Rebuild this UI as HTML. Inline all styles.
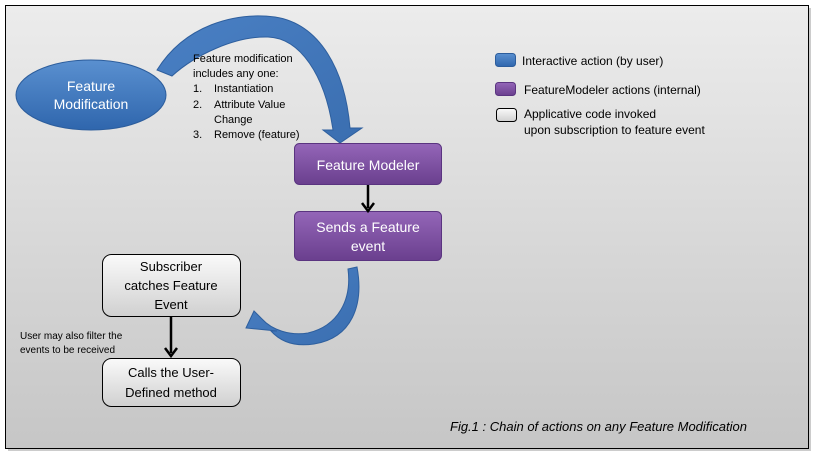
<!DOCTYPE html>
<html><head><meta charset="utf-8"><style>
html,body{margin:0;padding:0;background:#fff;}
svg{display:block;font-family:"Liberation Sans",sans-serif;}
</style></head><body>
<svg width="815" height="456" viewBox="0 0 815 456" xmlns="http://www.w3.org/2000/svg">
<defs>
<linearGradient id="bg" x1="0" y1="0" x2="0" y2="1"><stop offset="0" stop-color="#ececec"/><stop offset="1" stop-color="#c6c6c6"/></linearGradient>
<linearGradient id="blue" x1="0" y1="0" x2="0" y2="1"><stop offset="0" stop-color="#5a90d0"/><stop offset="1" stop-color="#2f66ad"/></linearGradient>
<linearGradient id="purp" x1="0" y1="0" x2="0" y2="1"><stop offset="0" stop-color="#9466b8"/><stop offset="1" stop-color="#6a3f8e"/></linearGradient>
<linearGradient id="wh" x1="0" y1="0" x2="0" y2="1"><stop offset="0" stop-color="#fafafa"/><stop offset="1" stop-color="#d0d0d0"/></linearGradient>
<linearGradient id="arr" x1="0" y1="0" x2="1" y2="1"><stop offset="0" stop-color="#4a80c4"/><stop offset="1" stop-color="#3a6eb0"/></linearGradient>
</defs>
<rect x="8" y="8" width="803" height="443" fill="#999" opacity="0.5"/>
<rect x="5.5" y="5.5" width="803" height="443" fill="url(#bg)" stroke="#000" stroke-width="1"/>
<ellipse cx="91" cy="95" rx="75" ry="35" fill="url(#blue)" stroke="#2c5d9c"/>
<text x="91" y="91" font-size="14" fill="#fff" text-anchor="middle">Feature</text>
<text x="91" y="109" font-size="14" fill="#fff" text-anchor="middle">Modification</text>
<path d="M157,70 C185,25 235,12 275,17 C320,24 345,70 350,128 L362,128 L340,143 L323,130 L333,130 C325,75 300,38 268,37 C235,36 195,55 172,76 Z" fill="url(#arr)" stroke="#2e5f9e" stroke-width="1"/>
<g font-size="11" fill="#000">
<text x="193" y="62">Feature modification</text>
<text x="193" y="77">includes any one:</text>
<text x="193" y="92">1.</text><text x="214" y="92">Instantiation</text>
<text x="193" y="108">2.</text><text x="214" y="108">Attribute Value</text>
<text x="214" y="123">Change</text>
<text x="193" y="138">3.</text><text x="214" y="138">Remove (feature)</text>
</g>
<rect x="294.5" y="143.5" width="147" height="41" rx="5" fill="url(#purp)" stroke="#5a3480"/>
<text x="368" y="170" font-size="14" fill="#fff" text-anchor="middle">Feature Modeler</text>
<rect x="294.5" y="211.5" width="147" height="49" rx="5" fill="url(#purp)" stroke="#5a3480"/>
<text x="368" y="232" font-size="14" fill="#fff" text-anchor="middle">Sends a Feature</text>
<text x="368" y="251" font-size="14" fill="#fff" text-anchor="middle">event</text>
<line x1="368" y1="185" x2="368" y2="208" stroke="#000" stroke-width="2.5"/>
<path d="M362,203 L368,211 L374,203" fill="none" stroke="#000" stroke-width="2.5"/>
<line x1="171" y1="316" x2="171" y2="353" stroke="#000" stroke-width="2.5"/>
<path d="M165,348 L171,356 L177,348" fill="none" stroke="#000" stroke-width="2.5"/>
<path d="M348,269 L357,267 C364,305 352,338 314,344 C294,347 280,341 271,331 L277,331 L246,328 L254,311 L262,319 C272,330 290,336 308,333 C338,326 352,300 348,269 Z" fill="url(#arr)" stroke="#2e5f9e" stroke-width="1"/>
<rect x="102.5" y="254.5" width="138" height="62" rx="9" fill="url(#wh)" stroke="#000"/>
<text x="171" y="271" font-size="13" fill="#000" text-anchor="middle">Subscriber</text>
<text x="171" y="290" font-size="13" fill="#000" text-anchor="middle">catches Feature</text>
<text x="171" y="309" font-size="13" fill="#000" text-anchor="middle">Event</text>
<rect x="102.5" y="358.5" width="138" height="48" rx="9" fill="url(#wh)" stroke="#000"/>
<text x="171" y="377" font-size="13" fill="#000" text-anchor="middle">Calls the User-</text>
<text x="171" y="397" font-size="13" fill="#000" text-anchor="middle">Defined method</text>
<text x="20" y="339" font-size="10" fill="#000">User may also filter the</text>
<text x="20" y="353" font-size="10" fill="#000">events to be received</text>
<rect x="495.5" y="53.5" width="20" height="13" rx="3" fill="url(#blue)" stroke="#2c5d9c"/>
<text x="522" y="65" font-size="12" fill="#000">Interactive action (by user)</text>
<rect x="495.5" y="82.5" width="20" height="13" rx="3" fill="url(#purp)" stroke="#5a3480"/>
<text x="524" y="94" font-size="12" fill="#000">FeatureModeler actions (internal)</text>
<rect x="496.5" y="108.5" width="20" height="13" rx="3" fill="url(#wh)" stroke="#000"/>
<text x="524" y="118" font-size="12" fill="#000">Applicative code invoked</text>
<text x="524" y="134" font-size="12" fill="#000">upon subscription to feature event</text>
<text x="450" y="431" font-size="13" font-style="italic" fill="#000">Fig.1 : Chain of actions on any Feature Modification</text>
</svg>
</body></html>
